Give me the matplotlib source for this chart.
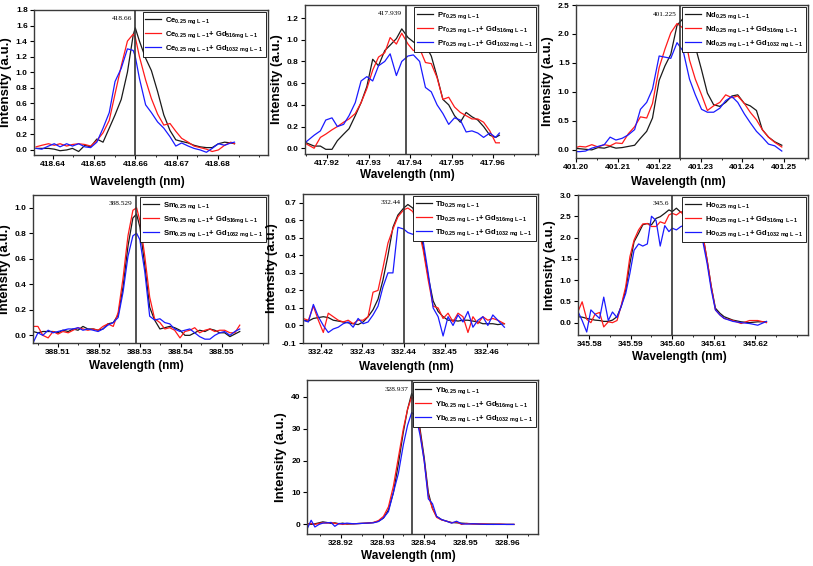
# Emission spectra of seven rare earth lines, each with and without Gd matrix
import matplotlib
matplotlib.use('Agg')
import matplotlib.pyplot as plt
from matplotlib.ticker import MultipleLocator, FormatStrFormatter

plt.rcParams['font.family'] = ['Liberation Sans', 'DejaVu Sans']
plt.rcParams['font.weight'] = 'bold'
plt.rcParams['axes.labelweight'] = 'bold'
plt.rcParams['mathtext.default'] = 'regular'

# ---------------- data ----------------
# Ce 418.66
ce_wl = [418.6360, 418.6374, 418.6390, 418.6404, 418.6418, 418.6434, 418.6448, 418.6463, 418.6478,
         418.6492, 418.6507, 418.6522, 418.6537, 418.6551, 418.6566, 418.6581, 418.6595, 418.6600,
         418.6610, 418.6625, 418.6639, 418.6654, 418.6669, 418.6684, 418.6698, 418.6712, 418.6728,
         418.6742, 418.6757, 418.6772, 418.6786, 418.6801, 418.6816, 418.6831, 418.6840]
ce_black = [0.02, 0.02, 0.02, 0.01, -0.01, 0.00, 0.02, -0.02, 0.06, 0.04, 0.14, 0.10, 0.28, 0.45,
            0.65, 1.00, 1.48, 1.57, 1.40, 1.18, 1.02, 0.75, 0.45, 0.25, 0.13, 0.11, 0.09, 0.06,
            0.04, 0.03, 0.03, 0.08, 0.10, 0.09, 0.08]
ce_red = [0.04, 0.06, 0.08, 0.06, 0.08, 0.05, 0.07, 0.08, 0.07, 0.05, 0.12, 0.22, 0.38, 0.72,
          1.08, 1.40, 1.49, 1.45, 1.20, 0.90, 0.66, 0.46, 0.32, 0.34, 0.24, 0.15, 0.10, 0.05,
          0.03, 0.01, -0.02, 0.00, 0.06, 0.10, 0.08]
ce_blue = [0.02, 0.01, 0.05, 0.08, 0.04, 0.08, 0.05, 0.08, 0.04, 0.03, 0.10, 0.28, 0.48, 0.88,
           1.05, 1.30, 1.28, 1.20, 0.92, 0.58, 0.48, 0.36, 0.28, 0.17, 0.05, 0.09, 0.05, 0.02,
           0.00, -0.03, 0.02, 0.08, 0.06, 0.09, 0.10]

# Pr 417.939
pr_wl = [417.9150, 417.9169, 417.9184, 417.9197, 417.9212, 417.9225, 417.9240, 417.9253, 417.9268,
         417.9282, 417.9296, 417.9310, 417.9324, 417.9339, 417.9352, 417.9367, 417.9380, 417.9395,
         417.9408, 417.9423, 417.9437, 417.9451, 417.9465, 417.9479, 417.9493, 417.9507, 417.9521,
         417.9535, 417.9549, 417.9563, 417.9577, 417.9592, 417.9606, 417.9615]
pr_black = [0.05, 0.02, 0.02, -0.01, -0.01, 0.07, 0.13, 0.18, 0.30, 0.42, 0.57, 0.82, 0.76, 0.90,
            0.95, 1.01, 1.10, 1.02, 0.98, 0.94, 0.95, 0.85, 0.66, 0.45, 0.40, 0.30, 0.24, 0.33,
            0.29, 0.26, 0.20, 0.12, 0.10, 0.12]
pr_red = [0.04, 0.00, 0.10, 0.13, 0.17, 0.20, 0.24, 0.27, 0.32, 0.42, 0.55, 0.72, 0.84, 0.88,
          1.02, 0.96, 1.06, 0.96, 0.90, 0.92, 0.79, 0.78, 0.65, 0.45, 0.47, 0.38, 0.33, 0.30,
          0.27, 0.27, 0.24, 0.16, 0.05, 0.05]
pr_blue = [0.06, 0.12, 0.16, 0.26, 0.28, 0.20, 0.22, 0.30, 0.42, 0.62, 0.66, 0.62, 0.76, 0.80,
           0.87, 0.67, 0.80, 0.85, 0.86, 0.80, 0.56, 0.52, 0.40, 0.32, 0.22, 0.28, 0.26, 0.15,
           0.16, 0.14, 0.10, 0.14, 0.10, 0.14]

# Nd 401.225
nd_wl = [401.1995, 401.2009, 401.2023, 401.2038, 401.2053, 401.2068, 401.2082, 401.2096, 401.2111,
         401.2126, 401.2141, 401.2155, 401.2170, 401.2184, 401.2200, 401.2214, 401.2228, 401.2243,
         401.2258, 401.2273, 401.2287, 401.2302, 401.2316, 401.2331, 401.2346, 401.2360, 401.2375,
         401.2389, 401.2405, 401.2419, 401.2434, 401.2448, 401.2463, 401.2478, 401.2495]
nd_black = [0.03, 0.02, 0.01, 0.00, 0.04, 0.03, 0.06, 0.03, 0.04, 0.06, 0.08, 0.20, 0.32, 0.55,
            1.20, 1.45, 1.65, 2.15, 2.27, 2.30, 1.78, 1.38, 0.98, 0.78, 0.75, 0.82, 0.93, 0.95,
            0.80, 0.76, 0.68, 0.35, 0.22, 0.14, 0.08]
nd_red = [0.03, 0.06, 0.05, 0.09, 0.05, 0.09, 0.07, 0.12, 0.11, 0.28, 0.40, 0.57, 0.55, 0.80,
          1.42, 1.74, 2.02, 2.18, 2.10, 1.55, 1.22, 0.95, 0.68, 0.76, 0.82, 0.95, 0.90, 0.93,
          0.80, 0.65, 0.52, 0.35, 0.22, 0.13, 0.05]
nd_blue = [-0.03, -0.03, -0.02, 0.03, 0.06, 0.09, 0.22, 0.17, 0.20, 0.26, 0.35, 0.70, 0.82, 1.05,
           1.62, 1.60, 1.58, 1.85, 1.70, 1.22, 0.95, 0.70, 0.65, 0.65, 0.72, 0.85, 0.92, 0.82,
           0.62, 0.47, 0.32, 0.22, 0.10, 0.07, -0.02]

# Sm 388.529
sm_wl = [388.5039, 388.5051, 388.5063, 388.5076, 388.5088, 388.5100, 388.5112, 388.5125, 388.5137,
         388.5149, 388.5161, 388.5173, 388.5186, 388.5198, 388.5210, 388.5222, 388.5235, 388.5247,
         388.5259, 388.5271, 388.5283, 388.5292, 388.5300, 388.5312, 388.5324, 388.5336, 388.5349,
         388.5361, 388.5373, 388.5385, 388.5398, 388.5410, 388.5422, 388.5434, 388.5446, 388.5459,
         388.5471, 388.5483, 388.5495, 388.5507, 388.5520, 388.5532, 388.5544]
sm_black = [0.03, 0.02, 0.03, 0.03, 0.03, 0.02, 0.04, 0.03, 0.05, 0.04, 0.07, 0.05, 0.05, 0.04,
            0.05, 0.09, 0.10, 0.16, 0.38, 0.70, 0.92, 0.95, 0.85, 0.55, 0.22, 0.12, 0.05, 0.06,
            0.07, 0.06, 0.04, 0.00, 0.00, 0.02, 0.04, 0.03, 0.05, 0.04, 0.02, 0.02, -0.01, 0.01, 0.03]
sm_red = [0.07, 0.07, 0.00, -0.02, 0.03, 0.01, 0.03, 0.02, 0.04, 0.06, 0.05, 0.04, 0.05, 0.04,
          0.07, 0.09, 0.07, 0.18, 0.45, 0.78, 0.98, 1.00, 0.90, 0.62, 0.30, 0.13, 0.10, 0.05,
          0.06, 0.04, -0.02, 0.03, 0.04, 0.06, 0.02, 0.04, 0.05, 0.03, 0.04, 0.04, 0.02, 0.02, 0.08]
sm_blue = [-0.06, 0.02, 0.00, 0.04, 0.02, 0.03, 0.04, 0.05, 0.05, 0.06, 0.04, 0.05, 0.04, 0.03,
           0.05, 0.08, 0.10, 0.14, 0.34, 0.62, 0.78, 0.80, 0.75, 0.50, 0.15, 0.12, 0.13, 0.10,
           0.09, 0.05, 0.03, 0.04, 0.05, 0.02, -0.01, -0.03, -0.03, 0.00, 0.02, 0.03, 0.00, 0.03, 0.05]

# Tb 332.44
tb_wl = [332.4157, 332.4170, 332.4182, 332.4194, 332.4206, 332.4218, 332.4230, 332.4242, 332.4254,
         332.4266, 332.4278, 332.4290, 332.4302, 332.4314, 332.4326, 332.4338, 332.4350, 332.4362,
         332.4374, 332.4386, 332.4400, 332.4410, 332.4422, 332.4435, 332.4447, 332.4459, 332.4471,
         332.4483, 332.4495, 332.4507, 332.4519, 332.4531, 332.4543, 332.4555, 332.4567, 332.4579,
         332.4591, 332.4603, 332.4615, 332.4627, 332.4643]
tb_black = [0.03, 0.025, 0.04, 0.045, 0.05, 0.045, 0.03, 0.025, 0.02, 0.015, 0.01, 0.005, 0.02,
            0.05, 0.09, 0.15, 0.26, 0.40, 0.56, 0.63, 0.67, 0.69, 0.67, 0.58, 0.45, 0.28, 0.14,
            0.08, 0.05, 0.03, 0.03, 0.025, 0.03, 0.03, 0.025, 0.02, 0.01, 0.01, 0.01, 0.005, 0.01]
tb_red = [0.04, 0.03, 0.11, 0.03, -0.04, 0.07, 0.05, 0.03, 0.02, 0.03, 0.01, 0.03, 0.03, 0.05,
          0.19, 0.20, 0.33, 0.47, 0.55, 0.62, 0.66, 0.67, 0.65, 0.56, 0.43, 0.26, 0.11, 0.10,
          0.04, 0.07, 0.02, 0.07, 0.05, -0.04, 0.05, 0.01, 0.05, 0.03, 0.04, 0.03, 0.01]
tb_blue = [0.03, 0.02, 0.12, 0.05, 0.00, -0.04, -0.02, -0.01, 0.01, 0.02, -0.01, 0.04, 0.01, 0.02,
           0.06, 0.11, 0.22, 0.30, 0.30, 0.56, 0.55, 0.53, 0.52, 0.54, 0.48, 0.30, 0.10, 0.05,
           -0.06, 0.05, 0.00, 0.06, 0.02, 0.08, -0.01, 0.03, 0.05, 0.00, 0.06, 0.03, -0.01]

# Ho 345.6
ho_wl = [345.5773, 345.5783, 345.5794, 345.5804, 345.5814, 345.5825, 345.5835, 345.5846, 345.5856,
         345.5867, 345.5877, 345.5888, 345.5898, 345.5908, 345.5919, 345.5929, 345.5940, 345.5950,
         345.5961, 345.5971, 345.5982, 345.5992, 345.6000, 345.6010, 345.6021, 345.6031, 345.6042,
         345.6052, 345.6063, 345.6073, 345.6084, 345.6094, 345.6104, 345.6115, 345.6125, 345.6146,
         345.6166, 345.6186, 345.6206, 345.6227]
ho_black = [0.14, 0.13, 0.10, 0.08, 0.06, 0.05, 0.03, 0.03, 0.06, 0.14, 0.38, 0.77, 1.39, 1.90,
            2.10, 2.30, 2.33, 2.30, 2.45, 2.49, 2.57, 2.65, 2.61, 2.69, 2.59, 2.63, 2.66, 2.70,
            2.52, 2.10, 1.47, 0.85, 0.34, 0.22, 0.14, 0.06, 0.02, 0.00, 0.02, 0.02]
ho_red = [0.26, 0.49, 0.08, 0.00, 0.20, 0.24, -0.10, 0.02, 0.00, 0.05, 0.40, 0.85, 1.55, 1.94,
          2.18, 2.32, 2.33, 2.26, 2.26, 2.37, 2.33, 2.53, 2.57, 2.53, 2.61, 2.45, 2.53, 2.63,
          2.49, 2.10, 1.47, 0.85, 0.30, 0.18, 0.10, 0.05, -0.02, 0.05, 0.05, 0.00]
ho_blue = [0.26, 0.05, -0.22, 0.30, 0.20, 0.10, 0.60, 0.05, 0.25, 0.12, 0.38, 0.69, 1.16, 1.70,
           1.85, 1.80, 1.85, 2.50, 2.40, 1.80, 2.28, 2.14, 2.22, 2.18, 2.26, 2.29, 2.40, 2.27,
           2.26, 1.94, 1.39, 0.77, 0.30, 0.18, 0.10, 0.03, 0.00, -0.02, -0.06, 0.03]

# Yb 328.937
yb_wl = [328.9118, 328.9128, 328.9137, 328.9147, 328.9156, 328.9166, 328.9176, 328.9185, 328.9195,
         328.9204, 328.9214, 328.9230, 328.9246, 328.9262, 328.9278, 328.9290, 328.9302, 328.9314,
         328.9326, 328.9338, 328.9350, 328.9360, 328.9370, 328.9380, 328.9390, 328.9400, 328.9410,
         328.9420, 328.9430, 328.9442, 328.9454, 328.9466, 328.9478, 328.9490, 328.9502, 328.9518,
         328.9534, 328.9550, 328.9566, 328.9582, 328.9598, 328.9616]
yb_black = [0.3, 0.0, 0.2, 0.5, 0.8, 0.6, 0.3, 0.5, 0.2, 0.4, 0.1, 0.2, 0.3, 0.4, 0.6, 1.0, 2.0,
            4.5, 10.0, 19.0, 29.0, 36.0, 41.0, 38.0, 30.0, 21.0, 10.0, 5.0, 2.5, 1.5, 1.0, 0.6,
            0.5, 0.4, 0.3, 0.2, 0.1, 0.1, 0.1, 0.05, 0.0, 0.0]
yb_red = [0.1, 0.3, 0.0, 0.3, 0.5, 0.4, 0.6, 0.3, 0.2, 0.0, 0.2, 0.2, 0.3, 0.4, 0.6, 1.2, 2.5,
          5.5, 12.0, 21.0, 30.0, 36.0, 40.0, 37.0, 29.0, 20.0, 9.0, 5.0, 2.2, 1.4, 1.0, 0.5,
          0.8, 0.0, 0.3, 0.1, 0.2, 0.1, 0.0, 0.1, 0.0, 0.0]
yb_blue = [-1.5, 1.3, -0.8, 0.0, 0.4, 0.5, 0.6, -0.6, 0.3, 0.2, 0.4, 0.2, 0.3, 0.4, 0.5, 0.9, 2.0,
           4.0, 10.0, 16.0, 25.0, 31.0, 35.0, 34.0, 28.0, 20.0, 8.0, 6.5, 2.5, 1.5, 1.0, 0.4,
           1.0, 0.2, 0.1, 0.2, 0.1, 0.0, 0.0, 0.0, 0.0, 0.0]

# peak positions (marked lines) and their labels
peaks = [418.66, 417.939, 401.225, 388.529, 332.44, 345.6, 328.937]
peak_labels = ['418.66', '417.939', '401.225', '388.529', '332.44', '345.6', '328.937']
elements = ['Ce', 'Pr', 'Nd', 'Sm', 'Tb', 'Ho', 'Yb']

# tick values
ce_xticks = [418.64, 418.65, 418.66, 418.67, 418.68]
pr_xticks = [417.92, 417.93, 417.94, 417.95, 417.96]
nd_xticks = [401.20, 401.21, 401.22, 401.23, 401.24, 401.25]
sm_xticks = [388.51, 388.52, 388.53, 388.54, 388.55]
tb_xticks = [332.42, 332.43, 332.44, 332.45, 332.46]
ho_xticks = [345.58, 345.59, 345.60, 345.61, 345.62]
yb_xticks = [328.92, 328.93, 328.94, 328.95, 328.96]
ce_yticks = [0.0, 0.2, 0.4, 0.6, 0.8, 1.0, 1.2, 1.4, 1.6, 1.8]
pr_yticks = [0.0, 0.2, 0.4, 0.6, 0.8, 1.0, 1.2]
nd_yticks = [0.0, 0.5, 1.0, 1.5, 2.0, 2.5]
sm_yticks = [0.0, 0.2, 0.4, 0.6, 0.8, 1.0]
tb_yticks = [-0.1, 0.0, 0.1, 0.2, 0.3, 0.4, 0.5, 0.6, 0.7]
ho_yticks = [0.0, 0.5, 1.0, 1.5, 2.0, 2.5, 3.0]
yb_yticks = [0, 10, 20, 30, 40]


fig = plt.figure(figsize=(8.13, 5.66), dpi=100)


def px_rect(left, top, right, bottom):
    # pixel box of the axes -> figure fraction
    return [left / 813, 1 - bottom / 566, (right - left) / 813, (bottom - top) / 566]


def draw_panel(rect, el, wl, black, red, blue, peak, plabel, xlim, ylim, xticks, yticks, yfmt,
               xl_off=26):
    ax = fig.add_axes(rect)
    sub = r'$_{0.25\ mg\ L-1}$'
    ax.plot(wl, black, color='#1a1a1a', lw=0.9, label=el + sub)
    ax.plot(wl, red, color='#ff1a1a', lw=0.9, label=el + sub + r'+ Gd$_{516mg\ L-1}$')
    ax.plot(wl, blue, color='#1a1aff', lw=0.9, label=el + sub + r'+ Gd$_{1032\ mg\ L-1}$')
    ax.axvline(peak, color='#333333', lw=1.2, zorder=4)
    ax.annotate(plabel, xy=(peak, 0.94), xycoords=('data', 'axes fraction'),
                xytext=(-2.5, 0), textcoords='offset points', ha='right', va='center',
                fontsize=5.3, family='Liberation Serif', weight='normal')
    ax.set_xlim(xlim)
    ax.set_ylim(ylim)
    ax.set_xticks(xticks)
    ax.set_yticks(yticks)
    ax.xaxis.set_major_formatter(FormatStrFormatter('%.2f'))
    ax.yaxis.set_major_formatter(FormatStrFormatter(yfmt))
    ax.xaxis.set_minor_locator(MultipleLocator(0.005))
    ax.tick_params(direction='out', length=3, width=0.8, labelsize=6, pad=1.5)
    ax.tick_params(which='minor', direction='out', length=1.5, width=0.6)
    for lab in ax.get_xticklabels() + ax.get_yticklabels():
        lab.set_fontweight('bold')
    for sp in ax.spines.values():
        sp.set_color('#3a3a3a')
        sp.set_linewidth(1.0)
    ax.set_xlabel('Wavelength (nm)', fontsize=8.5, fontweight='bold')
    # xlabel centre sits a fixed number of pixels under the frame
    ax.xaxis.label.set_va('center')
    ax.xaxis.set_label_coords(0.44, -xl_off / (rect[3] * 566))
    ax.set_ylabel('Intensity (a.u.)', fontsize=9.5, fontweight='bold', labelpad=3)
    leg = ax.legend(loc='upper right', prop={'size': 5.5, 'weight': 'bold'}, fancybox=False,
                    edgecolor='black', framealpha=1, borderpad=0.35, labelspacing=0.45,
                    handlelength=2.1, handletextpad=0.5, borderaxespad=0.3)
    leg.get_frame().set_linewidth(0.6)
    return ax


draw_panel(px_rect(34, 10, 268, 155), elements[0], ce_wl, ce_black, ce_red, ce_blue,
           peaks[0], peak_labels[0], (418.6355, 418.6921), (-0.065, 1.8), ce_xticks, ce_yticks,
           '%.1f', xl_off=27)
draw_panel(px_rect(305, 5, 538, 154), elements[1], pr_wl, pr_black, pr_red, pr_blue,
           peaks[1], peak_labels[1], (417.9147, 417.9708), (-0.053, 1.32), pr_xticks, pr_yticks,
           '%.1f', xl_off=21)
draw_panel(px_rect(576, 5, 808, 158), elements[2], nd_wl, nd_black, nd_red, nd_blue,
           peaks[2], peak_labels[2], (401.200, 401.2558), (-0.14, 2.5), nd_xticks, nd_yticks,
           '%.1f', xl_off=24)
draw_panel(px_rect(33, 195, 268, 343), elements[3], sm_wl, sm_black, sm_red, sm_blue,
           peaks[3], peak_labels[3], (388.5039, 388.5613), (-0.06, 1.1), sm_xticks, sm_yticks,
           '%.1f', xl_off=23)
draw_panel(px_rect(303, 194, 538, 343), elements[4], tb_wl, tb_black, tb_red, tb_blue,
           peaks[4], peak_labels[4], (332.4157, 332.4724), (-0.1, 0.75), tb_xticks, tb_yticks,
           '%.1f', xl_off=24)
draw_panel(px_rect(578, 195, 808, 335), elements[5], ho_wl, ho_black, ho_red, ho_blue,
           peaks[5], peak_labels[5], (345.5773, 345.6327), (-0.29, 3.0), ho_xticks, ho_yticks,
           '%.1f', xl_off=22)
draw_panel(px_rect(307, 380, 538, 534), elements[6], yb_wl, yb_black, yb_red, yb_blue,
           peaks[6], peak_labels[6], (328.9118, 328.9674), (-3.0, 45.2), yb_xticks, yb_yticks,
           '%d', xl_off=22)

fig.savefig('out.png', dpi=100)
